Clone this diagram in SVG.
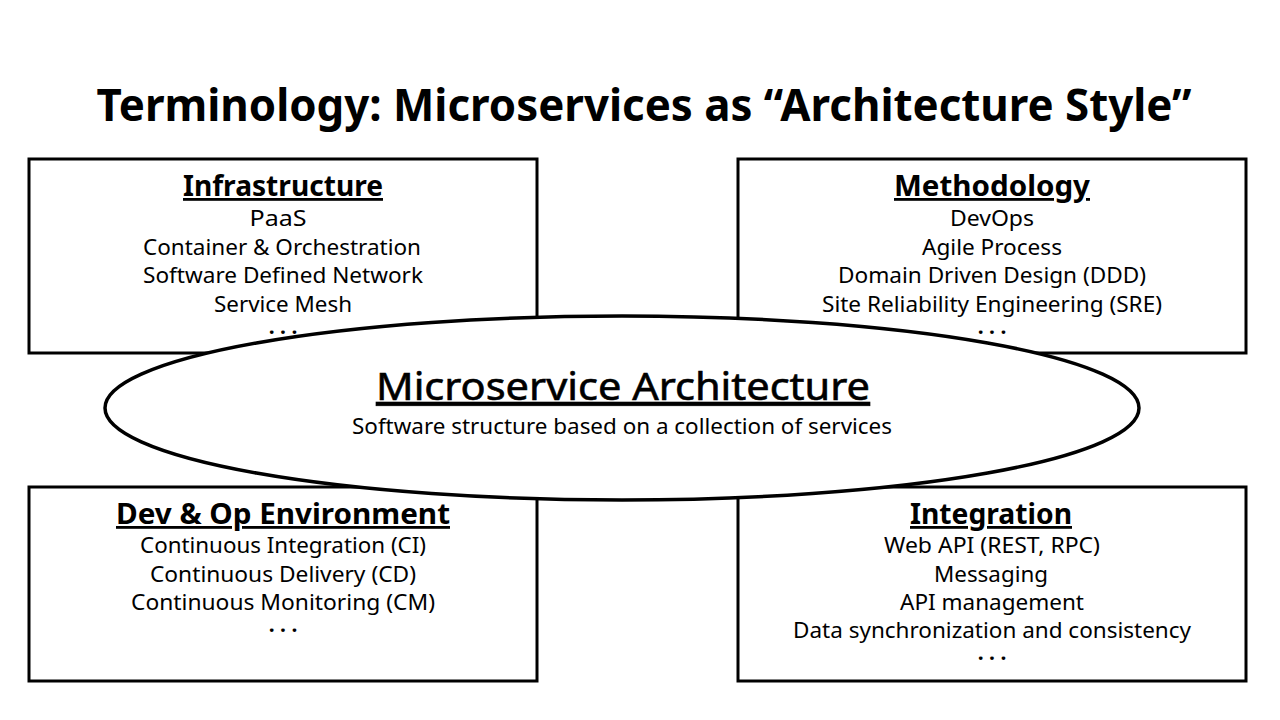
<svg xmlns="http://www.w3.org/2000/svg" width="1280" height="720" viewBox="0 0 1280 720">
<style>
text{font-family:"Noto Sans","Open Sans","Liberation Sans",sans-serif;fill:#000;text-anchor:middle}
.title{font-size:44px;font-weight:bold}
.head{font-size:28px;font-weight:bold;text-decoration:underline}
.item{font-size:21px}
.dots{font-size:21px;font-weight:bold}
.box{fill:#fff;stroke:#000;stroke-width:3}
.ell{fill:#fff;stroke:#000;stroke-width:3.5}
.ctitle{font-size:38px;text-decoration:underline;stroke:#000;stroke-width:0.6}
</style>
<rect width="1280" height="720" fill="#fff"/>
<text class="title" x="644" y="121" textLength="1095" lengthAdjust="spacingAndGlyphs">Terminology: Microservices as “Architecture Style”</text>
<g id="infrastructure">
<rect class="box" x="29" y="159" width="508" height="194"/>
<text class="head" x="283" y="196" textLength="200" lengthAdjust="spacingAndGlyphs">Infrastructure</text>
<text class="item" x="278" y="226" textLength="57" lengthAdjust="spacingAndGlyphs">PaaS</text>
<text class="item" x="282" y="255" textLength="278" lengthAdjust="spacingAndGlyphs">Container &amp; Orchestration</text>
<text class="item" x="283" y="283" textLength="280" lengthAdjust="spacingAndGlyphs">Software Defined Network</text>
<text class="item" x="283" y="312" textLength="138" lengthAdjust="spacingAndGlyphs">Service Mesh</text>
<text class="dots" x="283" y="340">· · ·</text>
</g>
<g id="methodology">
<rect class="box" x="738" y="159" width="508" height="194"/>
<text class="head" x="992" y="196" textLength="196" lengthAdjust="spacingAndGlyphs">Methodology</text>
<text class="item" x="992" y="226" textLength="84" lengthAdjust="spacingAndGlyphs">DevOps</text>
<text class="item" x="992" y="255" textLength="140" lengthAdjust="spacingAndGlyphs">Agile Process</text>
<text class="item" x="992" y="283" textLength="308" lengthAdjust="spacingAndGlyphs">Domain Driven Design (DDD)</text>
<text class="item" x="992" y="312" textLength="340" lengthAdjust="spacingAndGlyphs">Site Reliability Engineering (SRE)</text>
<text class="dots" x="992" y="340">· · ·</text>
</g>
<g id="devop">
<rect class="box" x="29" y="487" width="508" height="194"/>
<text class="head" x="283" y="524" textLength="334" lengthAdjust="spacingAndGlyphs">Dev &amp; Op Environment</text>
<text class="item" x="283" y="553" textLength="286" lengthAdjust="spacingAndGlyphs">Continuous Integration (CI)</text>
<text class="item" x="283" y="582" textLength="266" lengthAdjust="spacingAndGlyphs">Continuous Delivery (CD)</text>
<text class="item" x="283" y="610" textLength="304" lengthAdjust="spacingAndGlyphs">Continuous Monitoring (CM)</text>
<text class="dots" x="283" y="638">· · ·</text>
</g>
<g id="integration">
<rect class="box" x="738" y="487" width="508" height="194"/>
<text class="head" x="991" y="524" textLength="162" lengthAdjust="spacingAndGlyphs">Integration</text>
<text class="item" x="992" y="553" textLength="216" lengthAdjust="spacingAndGlyphs">Web API (REST, RPC)</text>
<text class="item" x="991" y="582" textLength="114" lengthAdjust="spacingAndGlyphs">Messaging</text>
<text class="item" x="992" y="610" textLength="184" lengthAdjust="spacingAndGlyphs">API management</text>
<text class="item" x="992" y="638" textLength="398" lengthAdjust="spacingAndGlyphs">Data synchronization and consistency</text>
<text class="dots" x="992" y="666">· · ·</text>
</g>
<g id="microservice-architecture">
<ellipse class="ell" cx="622" cy="408" rx="517" ry="92"/>
<text class="ctitle" x="623" y="400" textLength="494" lengthAdjust="spacingAndGlyphs">Microservice Architecture</text>
<text class="item" x="622" y="434" textLength="540" lengthAdjust="spacingAndGlyphs">Software structure based on a collection of services</text>
</g>
<g id="connectors"></g>
</svg>
